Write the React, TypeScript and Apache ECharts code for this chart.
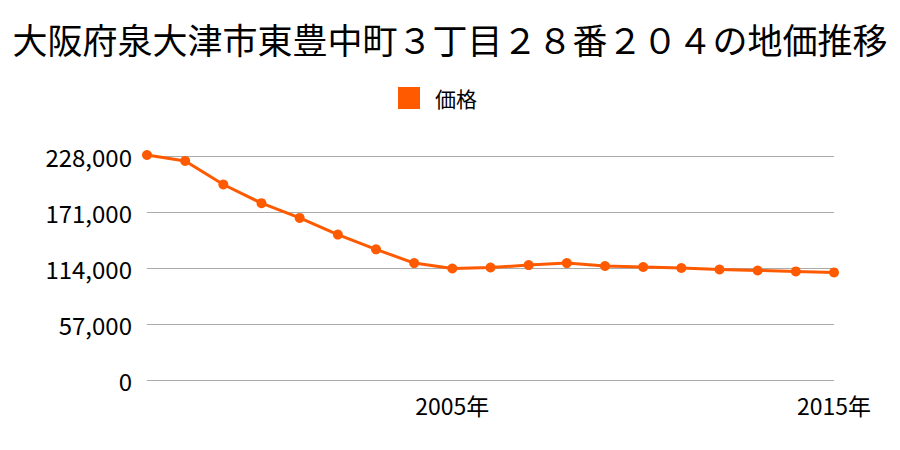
import React, { useEffect, useRef } from "react";
import * as echarts from "echarts";

const TITLE = "大阪府泉大津市東豊中町３丁目２８番２０４の地価推移";
const SERIES_NAME = "価格";
const years = [
  "1997", "1998", "1999", "2000", "2001", "2002", "2003", "2004", "2005", "2006",
  "2007", "2008", "2009", "2010", "2011", "2012", "2013", "2014", "2015",
];
const prices = [
  229000, 223000, 199000, 180000, 165000, 148000, 133000, 119000, 113500, 114500,
  117000, 119000, 116000, 115000, 114000, 112500, 111500, 110500, 109500,
];
const shownYears = ["2005", "2015"];
const yMax = 228000;
const yStep = 57000;

const FONT = "'Noto Sans CJK JP', 'Noto Sans', sans-serif";

export default function App() {
  const ref = useRef<HTMLDivElement>(null);
  useEffect(() => {
    if (!ref.current) return;
    const chart = echarts.init(ref.current, undefined, { renderer: "svg" });
    chart.setOption({
      animation: false,
      backgroundColor: "#ffffff",
      title: {
        text: TITLE,
        left: "center",
        top: 16,
        textStyle: { fontFamily: FONT, fontSize: 35, fontWeight: "normal", color: "#000" },
      },
      legend: {
        data: [{ name: SERIES_NAME, icon: "rect" }],
        top: 82,
        left: 393,
        itemWidth: 22,
        itemHeight: 22,
        itemGap: 10,
        textStyle: { fontFamily: FONT, fontSize: 21, color: "#000", padding: [0, 0, 0, 10] },
      },
      grid: { left: 147, right: 66, top: 156, bottom: 70, containLabel: false },
      xAxis: {
        type: "category",
        data: years,
        boundaryGap: false,
        axisLine: { show: false },
        axisTick: { show: false },
        axisLabel: {
          interval: 0,
          margin: 13,
          fontFamily: FONT,
          fontSize: 23,
          color: "#000",
          formatter: (v: string) => (shownYears.includes(v) ? v + "年" : ""),
        },
      },
      yAxis: {
        type: "value",
        min: 0,
        max: yMax,
        interval: yStep,
        axisLine: { show: false },
        axisTick: { show: false },
        splitLine: { lineStyle: { color: "#aaaaaa", width: 1 } },
        axisLabel: {
          margin: 15,
          fontFamily: FONT,
          fontSize: 24,
          color: "#000",
          formatter: (v: number) => v.toLocaleString("en-US"),
        },
      },
      series: [
        {
          name: SERIES_NAME,
          type: "line",
          data: prices,
          clip: false,
          symbol: "circle",
          symbolSize: 10,
          color: "#ff5a00",
          lineStyle: { color: "#ff5a00", width: 3 },
          itemStyle: { color: "#ff5a00" },
        },
      ],
    });
    return () => chart.dispose();
  }, []);
  return <div ref={ref} style={{ width: 900, height: 450, margin: -8 }} />;
}
